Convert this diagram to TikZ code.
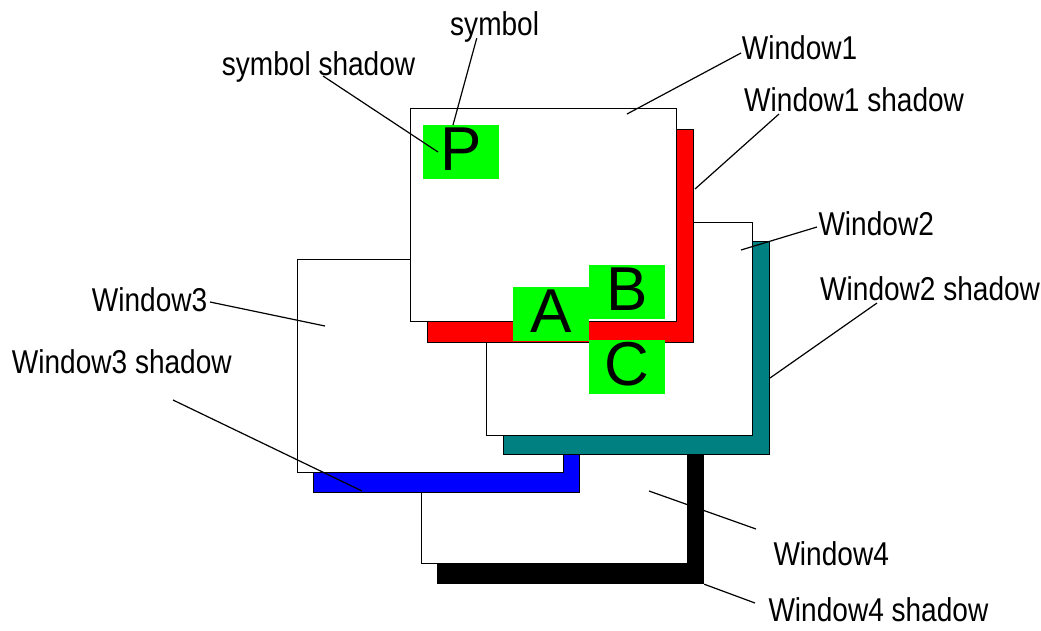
\documentclass[tikz,border=0pt]{standalone}
\usepackage{fontspec}
\setmainfont[FakeStretch=0.85]{Liberation Sans}
\newfontfamily\symfont{Liberation Sans}
\usetikzlibrary{positioning}
\definecolor{shteal}{RGB}{0,128,128}

\begin{document}
\begin{tikzpicture}[x=1pt,y=-1pt,
  winbox/.style={draw,fill=white,line width=1.2pt,inner sep=0pt,
    anchor=north west,minimum width=266pt,minimum height=213pt},
  shbox/.style={winbox,fill=#1},
  sym/.style={fill=green,inner sep=0pt,anchor=north west,
    minimum width=76pt,minimum height=54pt,text height=45.5pt,text depth=8.5pt,
    font=\symfont\fontsize{62}{62}\selectfont},
  lab/.style={anchor=base west,inner sep=0pt,font=\fontsize{33}{36}\selectfont},
  lead/.style={line width=1.2pt}]
  \useasboundingbox (0,0) rectangle (1041,630);
  \node[shbox=black]  (w4s) at (437,370) {};
  \node[winbox]       (w4)  at (421,350) {};
  \node[shbox=blue]   (w3s) at (313,279) {};
  \node[winbox]       (w3)  at (297,259) {};
  \node[shbox=shteal] (w2s) at (503,241) {};
  \node[winbox]       (w2)  at (486,222) {};
  \node[shbox=red]    (w1s) at (427,129) {};
  \node[winbox]       (w1)  at (410,108) {};
  \node[sym] (symP) at (423,125) {P};
  \node[sym] (symA) at (513,287) {A};
  \node[sym] (symB) at (589,265) {B};
  \node[sym] (symC) at (589,340) {C};
  \node[lab] (l-sym)   at (450,35.7)   {symbol};
  \node[lab] (l-symsh) at (221.7,75)   {symbol shadow};
  \node[lab] (l-w1)    at (741.7,59)   {Window1};
  \node[lab] (l-w1s)   at (744,111.7)  {Window1 shadow};
  \node[lab] (l-w2)    at (818.3,235.7) {Window2};
  \node[lab] (l-w2s)   at (820,300)    {Window2 shadow};
  \node[lab] (l-w3)    at (91.7,311.7) {Window3};
  \node[lab] (l-w3s)   at (11.7,373.3) {Window3 shadow};
  \node[lab] (l-w4)    at (773.3,565)  {Window4};
  \node[lab] (l-w4s)   at (768.3,621.7) {Window4 shadow};
  \coordinate (sym-a) at (476.7,38.3);  \coordinate (sym-b) at (453,125);
  \coordinate (symsh-a) at (323,76);    \coordinate (symsh-b) at (438,152);
  \coordinate (w1-a) at (741,53);       \coordinate (w1-b) at (627,114);
  \coordinate (w1s-a) at (779,114);     \coordinate (w1s-b) at (695,189);
  \coordinate (w2-a) at (817,227);      \coordinate (w2-b) at (741,250);
  \coordinate (w2s-a) at (877,303);     \coordinate (w2s-b) at (770,378);
  \coordinate (w3-a) at (210,302);      \coordinate (w3-b) at (325,326);
  \coordinate (w3s-a) at (173,400);     \coordinate (w3s-b) at (362,491);
  \coordinate (w4-a) at (756,529);      \coordinate (w4-b) at (649,491);
  \coordinate (w4s-a) at (755,603);     \coordinate (w4s-b) at (w4s.south east);
  \foreach \p in {sym,symsh,w1,w1s,w2,w2s,w3,w3s,w4,w4s}
    \draw[lead] (\p-a) -- (\p-b);
\end{tikzpicture}
\end{document}
